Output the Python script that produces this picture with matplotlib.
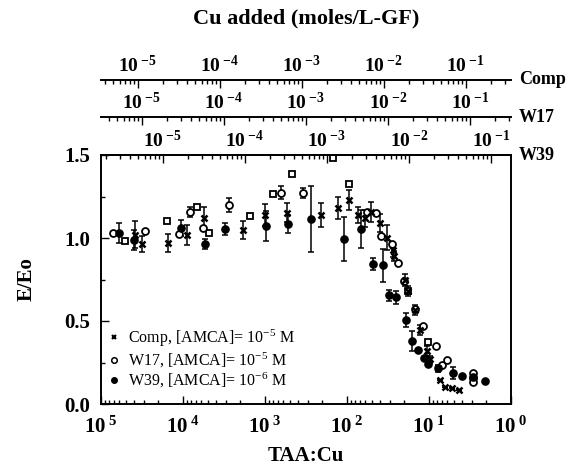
import numpy as np
import matplotlib.pyplot as plt
from matplotlib.lines import Line2D
from matplotlib.ticker import FixedLocator, FixedFormatter, LogLocator, NullFormatter, MultipleLocator

plt.rcParams['font.family'] = ['Liberation Serif', 'DejaVu Serif']
plt.rcParams['mathtext.fontset'] = 'custom'
plt.rcParams['mathtext.rm'] = 'Liberation Serif'
plt.rcParams['mathtext.it'] = 'Liberation Serif:italic'
plt.rcParams['mathtext.bf'] = 'Liberation Serif:bold'

# Comp, [AMCA]=1e-5 M  (x marks)
comp_taa = [38500, 31900, 15100, 8850, 5500, 1870, 1000, 545, 209, 130, 93.8, 74, 60.3,
            50.9, 39.6, 32.2, 27.2, 26.5, 19.6, 17.9, 14.8, 12.9, 10.5, 9.8, 7.7, 7.3,
            6.3, 5.3, 4.3]
comp_e = [1.02, 0.964, 0.968, 1.018, 1.122, 1.048, 1.139, 1.152, 1.139, 1.179, 1.229, 1.139,
          1.118, 1.158, 1.092, 1.002, 0.928, 0.892, 0.747, 0.68, 0.566, 0.446, 0.319, 0.27,
          0.215, 0.145, 0.10, 0.094, 0.084]
comp_err = [0.08, 0.05, 0.055, 0.06, 0.063, 0.055, 0.068, 0.057, 0.07, 0.065, 0.063, 0.05,
            0.05, 0.06, 0.055, 0.075, 0.04, 0.03, 0.035, 0.03, 0.03, 0.03, 0.03, 0.02,
            0.02, 0.0, 0.0, 0.0, 0.0]

# W17, [AMCA]=1e-5 M  (open circles)
w17_taa = [71900, 29000, 11100, 8220, 5650, 2720, 644, 341, 57.5, 44.3, 38.9, 28.5, 23.7,
           20.4, 14.8, 12.0, 8.2, 7.0, 6.1, 2.93, 2.93, 2.93]
w17_e = [1.028, 1.04, 1.022, 1.155, 1.058, 1.199, 1.273, 1.273, 1.158, 1.152, 1.012, 0.962,
         0.851, 0.741, 0.57, 0.47, 0.351, 0.235, 0.265, 0.188, 0.155, 0.134]
w17_err = [0.0, 0.0, 0.0, 0.03, 0.0, 0.04, 0.04, 0.03, 0.0, 0.0, 0.0, 0.0,
           0.0, 0.0, 0.0, 0.0, 0.0, 0.0, 0.0, 0.0, 0.0, 0.0]

# open squares (not in legend)
sq_taa = [50900, 15800, 6700, 4780, 1520, 793, 465, 147, 93.8, 17.9, 10.4]
sq_e = [0.984, 1.104, 1.185, 1.028, 1.134, 1.263, 1.384, 1.48, 1.325, 0.681, 0.375]

# W39, [AMCA]=1e-6 M  (filled circles)
w39_taa = [59800, 39300, 10700, 5400, 3080, 973, 520, 277, 108, 68, 47.9, 36.8, 30.5,
           25.2, 19.1, 16.3, 13.5, 11.5, 10.2, 7.7, 5.06, 4.0, 2.93, 2.07]
w39_e = [1.032, 0.99, 1.058, 0.964, 1.054, 1.072, 1.084, 1.114, 0.994, 1.052, 0.843, 0.836,
         0.654, 0.643, 0.506, 0.38, 0.325, 0.275, 0.239, 0.215, 0.185, 0.17, 0.165, 0.139]
w39_err = [0.06, 0.06, 0.048, 0.03, 0.035, 0.09, 0.055, 0.197, 0.13, 0.115, 0.035, 0.1,
           0.035, 0.04, 0.04, 0.06, 0.0, 0.0, 0.0, 0.0, 0.035, 0.0, 0.0, 0.0]

bottom_ticks = [1e5, 1e4, 1e3, 1e2, 1e1, 1e0]
bottom_labels = [r'$\mathbf{10}^{\ \mathbf{%d}}$' % p for p in [5, 4, 3, 2, 1, 0]]
top_ticks = [1e-5, 1e-4, 1e-3, 1e-2, 1e-1]
top_labels = [r'$\mathbf{10}^{\ \mathbf{-%d}}$' % p for p in [5, 4, 3, 2, 1]]
y_ticks = [0.0, 0.5, 1.0, 1.5]
y_labels = ['0.0', '0.5', '1.0', '1.5']

# scale names and log10 of (Cu added at TAA:Cu = 1)
top_names = ['Comp', 'W17', 'W39']
top_offsets = [-0.45, -0.5, -0.756]

fig = plt.figure(figsize=(5.7, 4.72), dpi=100)
L, B, W, H = 101 / 570, 1 - 404 / 472, 410 / 570, 249 / 472
ax = fig.add_axes([L, B, W, H])

ax.errorbar(comp_taa, comp_e, yerr=comp_err, fmt='none', ecolor='k', elinewidth=1.1,
            capsize=2.5, capthick=1.1, zorder=2)
ax.errorbar(w17_taa, w17_e, yerr=w17_err, fmt='none', ecolor='k', elinewidth=1.1,
            capsize=2.5, capthick=1.1, zorder=2)
ax.errorbar(w39_taa, w39_e, yerr=w39_err, fmt='none', ecolor='k', elinewidth=1.1,
            capsize=2.5, capthick=1.1, zorder=2)
ax.plot(sq_taa, sq_e, 's', ms=4.5, mfc='white', mec='k', mew=1.3, zorder=3)
ax.plot(w17_taa, w17_e, 'o', ms=5, mfc='white', mec='k', mew=1.3, zorder=3)
ax.plot(w39_taa, w39_e, 'o', ms=5.2, color='k', zorder=4)
ax.plot(comp_taa, comp_e, 'x', ms=4, color='k', mew=1.8, zorder=5)

ax.set_xscale('log')
ax.set_xlim(1e5, 1e0)
ax.set_ylim(0, 1.5)
ax.xaxis.set_major_locator(FixedLocator(bottom_ticks))
ax.xaxis.set_major_formatter(FixedFormatter(bottom_labels))
ax.xaxis.set_minor_locator(LogLocator(base=10, subs=np.arange(2, 10), numticks=20))
ax.xaxis.set_minor_formatter(NullFormatter())
ax.yaxis.set_major_locator(FixedLocator(y_ticks))
ax.yaxis.set_major_formatter(FixedFormatter(y_labels))
ax.yaxis.set_minor_locator(MultipleLocator(0.25))
ax.tick_params(which='both', direction='in', top=False, right=False, width=1.0)
ax.tick_params(which='major', length=6, labelsize=15)
ax.tick_params(axis='x', which='major', pad=9)
ax.tick_params(axis='y', which='major', pad=8)
ax.tick_params(which='minor', length=3)
for lab in ax.get_yticklabels():
    lab.set_fontweight('bold')
for s in ax.spines.values():
    s.set_linewidth(1.4)

ax.set_xlabel('TAA:Cu', fontsize=15, fontweight='bold', labelpad=6)
ax.set_ylabel('E/Eo', fontsize=15, fontweight='bold', labelpad=20)

handles = [Line2D([], [], marker='x', ls='none', color='k', ms=3.5, mew=1.5),
           Line2D([], [], marker='o', ls='none', mfc='white', mec='k', ms=4, mew=1.1),
           Line2D([], [], marker='o', ls='none', color='k', ms=4)]
labels = ['Comp, [AMCA]= 10$^{-5}$ M', 'W17, [AMCA]= 10$^{-5}$ M', 'W39, [AMCA]= 10$^{-6}$ M']
ax.legend(handles, labels, loc='lower left', bbox_to_anchor=(0.0, 0.03), frameon=False,
          fontsize=11.5, handlelength=0.8, handletextpad=0.5, labelspacing=0.1,
          borderaxespad=0)

# top "Cu added" scales
line_y = [1 - 80 / 472, 1 - 117 / 472, B + H]
for name, off, yy in zip(top_names, top_offsets, line_y):
    tax = fig.add_axes([L, yy - 0.0005, W, 0.0005])
    tax.set_xscale('log')
    tax.set_xlim(10 ** (off - 5), 10 ** off)
    tax.patch.set_visible(False)
    for k in ['left', 'right', 'bottom']:
        tax.spines[k].set_visible(False)
    tax.spines['top'].set_linewidth(1.4)
    tax.set_yticks([])
    tax.xaxis.set_ticks_position('top')
    tax.xaxis.set_label_position('top')
    tax.xaxis.set_major_locator(FixedLocator(top_ticks))
    tax.xaxis.set_major_formatter(FixedFormatter(top_labels))
    tax.xaxis.set_minor_locator(LogLocator(base=10, subs=np.arange(2, 10), numticks=20))
    tax.xaxis.set_minor_formatter(NullFormatter())
    tax.tick_params(which='both', direction='in', width=1.0)
    tax.tick_params(which='major', length=6, labelsize=14, pad=3)
    tax.tick_params(which='minor', length=3)
    fig.text((101 + 410 + 8) / 570, yy, name, fontsize=13, fontweight='bold',
             ha='left', va='center')

fig.text(L + W / 2, 1 - 18 / 472, 'Cu added (moles/L-GF)', fontsize=16,
         fontweight='bold', ha='center', va='center')

fig.savefig('out.png', dpi=100)
